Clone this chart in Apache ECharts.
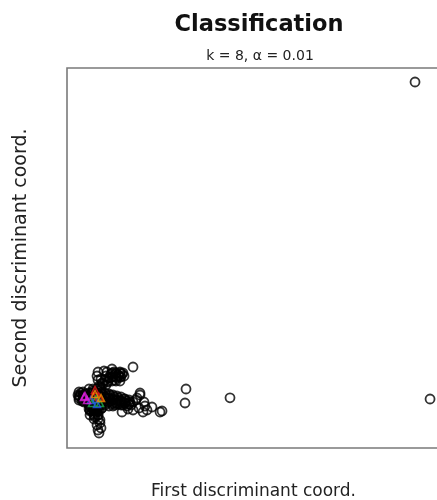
<!DOCTYPE html>
<html>
<head>
<meta charset="utf-8">
<script src="https://cdn.jsdelivr.net/npm/echarts@6/dist/echarts.min.js"></script>
<style>html,body{margin:0;padding:0;background:#fff}#c{width:437px;height:500px}</style>
</head>
<body>
<div id="c"></div>
<script>
// Discriminant coordinates (arbitrary units)
const otherPoints = [
  [7.57,13.16],[6.76,13.68],[8.38,12.63],[6.22,12.37],[8.92,13.68],[7.30,11.84],[8.11,14.47],
  [5.68,13.42],[9.46,12.89],[7.03,15.0],[8.65,11.32],
  [6.49,14.47],[7.84,14.74],[9.19,14.21],[5.95,12.89],[7.03,11.32],[8.11,10.79],[9.73,12.11],
  [8.92,11.58],[10.0,13.68],[6.76,12.89],[7.57,12.37],[8.38,13.16],[6.22,13.95],[5.41,12.11],
  [3.51,13.68],[4.32,13.16],[4.86,14.21],[4.05,12.37],[5.14,12.63],
  [3.24,13.16],[3.78,14.47],[4.59,12.11],[2.97,13.95],[4.32,13.95],
  [8.38,17.89],[8.92,16.05],[9.73,16.84],[10.54,18.95],[11.62,18.42],[12.70,20.0],[13.78,19.21],
  [14.59,18.68],[15.14,19.74],[11.08,17.37],[10.0,20.26],[12.16,20.79],[8.11,18.95],[9.19,15.26],[12.97,17.89],
  [13.24,19.47],[14.05,18.95],[14.86,19.47],[13.51,18.42],[12.43,18.95],[14.32,20.0],[11.08,18.42],
  [10.27,17.89],[9.46,17.11],[8.65,16.32],[9.19,18.16],[8.38,20.0],[10.81,20.0],[11.89,19.47],[15.41,18.95],
  [17.84,21.32],
  [10.27,13.42],[11.35,12.89],[12.43,12.63],[13.51,12.37],[14.59,12.11],[15.68,11.84],[16.76,11.58],
  [11.62,13.95],[13.78,13.16],[15.41,12.89],[10.81,11.84],[12.97,11.32],
  [10.54,12.89],[11.89,12.37],[13.24,11.84],[14.32,12.63],[15.95,12.37],[17.03,12.11],[11.08,13.68],
  [12.70,13.42],[14.05,11.58],[15.14,11.32],[16.22,11.05],[12.16,11.58],[17.30,11.32],
  [19.73,13.95],[18.65,12.63],[20.81,12.11],[21.62,10.0],[22.97,10.79],[25.14,9.47],
  [14.86,9.47],[16.49,10.26],[17.84,10.0],[19.46,10.53],[21.08,11.05],[20.54,9.47],
  [19.73,14.47],[18.92,13.16],
  [7.84,10.0],[8.38,8.68],[8.92,7.37],[8.11,6.05],[8.65,3.95],[9.19,5.26],[7.30,9.21],
  [6.76,10.79],[6.22,10.0],
  [6.22,10.79],[7.30,10.26],[8.11,9.47],[6.76,9.74],[8.65,10.0],[9.46,10.53],[7.57,8.16],[8.92,6.58],[8.38,4.74],
  [32.16,15.53],[31.89,11.84],[44.05,13.21],[25.68,9.74],
  [94.05,96.32],[98.11,12.9]
];
// densely overlapping points in the main cluster
const densePoints = [
  [10.27,14.47],[10.27,13.42],[10.27,12.37],[10.27,11.32],
  [11.35,14.21],[11.35,13.16],[11.35,12.11],[11.35,11.05],
  [12.43,13.95],[12.43,12.89],[12.43,11.84],[12.43,11.05],
  [13.51,13.68],[13.51,12.63],[13.51,11.58],
  [14.59,13.42],[14.59,12.37],[14.59,11.32],
  [15.68,12.89],[15.68,11.84],
  [16.76,12.63],[16.76,11.58],
  [17.84,12.11],
  [5.95,15.53],[5.95,14.47],[5.95,13.42],[5.95,12.37],[5.95,11.32],[5.95,10.26],
  [7.03,15.53],[7.03,14.47],[7.03,13.42],[7.03,12.37],[7.03,11.32],[7.03,10.26],
  [8.11,15.53],[8.11,14.47],[8.11,13.42],[8.11,12.37],[8.11,11.32],[8.11,10.26],
  [9.19,15.53],[9.19,14.47],[9.19,13.42],[9.19,12.37],[9.19,11.32],[9.19,10.26],
  [3.24,14.74],[3.24,13.68],[3.24,12.63],[4.32,14.74],[4.32,13.68],[4.32,12.63],
  [12.16,19.74],[12.16,18.68],[12.16,17.63],[13.24,19.74],[13.24,18.68],[13.24,17.63],
  [14.32,19.74],[14.32,18.68],[14.32,17.63],[10.54,16.58],[11.08,17.63],
  [6.22,9.74],[6.22,8.68],[7.30,9.74],[7.30,8.68],[7.30,7.63],[8.38,9.74],[8.38,8.68],[8.38,7.63]
];
const redPoints = [[7.57,15.26],[8.65,13.42],[7.03,13.68]];
const greenPoints = [[6.76,11.84],[8.92,11.84],[7.84,12.89]];
const bluePoints = [[8.11,11.58],[6.49,12.63]];
const orangePoints = [[9.19,13.16],[7.57,14.21]];
const magentaPoints = [[4.59,13.42],[5.41,12.63],[4.86,13.68]];

const titleText = 'Classification';
const subtitleText = 'k = 8, \u03b1 = 0.01';
const xName = 'First discriminant coord.';
const yName = 'Second discriminant coord.';

const chart = echarts.init(document.getElementById('c'), null, {renderer: 'canvas'});
const tri = (color, data) => ({
  type: 'scatter', data: data, symbol: 'triangle', symbolSize: 7,
  itemStyle: {color: 'transparent', borderColor: color, borderWidth: 1.6},
  z: 3
});
const circleStyle = {color: 'transparent', borderColor: '#000', borderWidth: 1.8};
chart.setOption({
  backgroundColor: '#fff',
  animation: false,
  title: [
    {text: titleText, left: 254, top: 9, textAlign: 'center',
     textStyle: {fontFamily: 'DejaVu Sans', fontWeight: 'bold', fontSize: 22.5, color: '#111'}},
    {text: subtitleText, left: 255, top: 44, textAlign: 'center',
     textStyle: {fontFamily: 'DejaVu Sans', fontWeight: 'normal', fontSize: 14, color: '#222'}}
  ],
  grid: {left: 67, right: -3, top: 68, bottom: 52, show: true, outerBoundsMode: 'none', containLabel: false,
         borderColor: '#7a7a7a', borderWidth: 1.6, backgroundColor: 'transparent'},
  xAxis: {type: 'value', min: 0, max: 100.8,
    name: xName, nameLocation: 'middle', nameGap: 35,
    nameTextStyle: {fontFamily: 'DejaVu Sans', fontSize: 17, color: '#222'},
    axisLine: {show: false}, axisTick: {show: false}, axisLabel: {show: false}, splitLine: {show: false}},
  yAxis: {type: 'value', min: 0, max: 100,
    name: yName, nameLocation: 'middle', nameGap: 36, nameRotate: 90,
    nameTextStyle: {fontFamily: 'DejaVu Sans', fontSize: 19, color: '#222'},
    axisLine: {show: false}, axisTick: {show: false}, axisLabel: {show: false}, splitLine: {show: false}},
  series: [
    {type: 'scatter', data: otherPoints.concat(densePoints), symbol: 'circle', symbolSize: 9,
     itemStyle: circleStyle, z: 2},
    tri('#e41a1c', redPoints),
    tri('#22b14c', greenPoints),
    tri('#2255ee', bluePoints),
    tri('#ff8c00', orangePoints),
    tri('#e020e0', magentaPoints)
  ]
});
</script>
</body>
</html>
